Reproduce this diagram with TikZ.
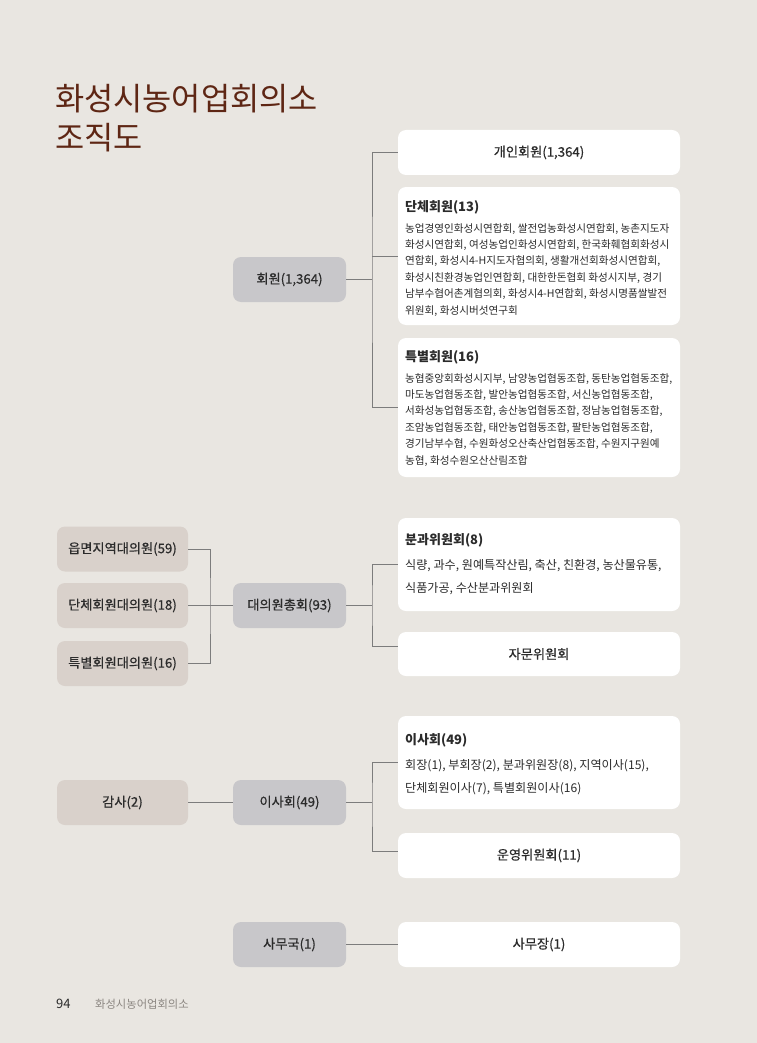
\documentclass[tikz,border=0pt]{standalone}
\usepackage{fontspec}
\setmainfont{Noto Sans CJK KR}
\newfontfamily\labelfont[FakeBold=0.6]{Noto Sans CJK KR}
\usetikzlibrary{calc}
\definecolor{bgcol}{HTML}{E9E6E1}
\definecolor{graycol}{HTML}{C8C7CA}
\definecolor{tancol}{HTML}{D9D1CB}
\definecolor{titlecol}{HTML}{5E2614}
\definecolor{txtcol}{HTML}{2B2B2B}
\definecolor{linecol}{HTML}{7C7C7C}
\definecolor{footcol}{HTML}{8C8782}

\tikzset{
  box/.style={rounded corners=8pt, inner sep=0pt, text=txtcol, font=\labelfont\fontsize{13.2}{15}\selectfont},
  whitebox/.style={box, fill=white, minimum width=282pt, minimum height=45pt},
  graybox/.style={box, fill=graycol, minimum width=113pt, minimum height=45pt},
  tanbox/.style={box, fill=tancol, minimum width=131pt, minimum height=45pt},
  headtxt/.style={anchor=west, inner sep=0pt, text=txtcol, font=\bfseries\fontsize{13}{15}\selectfont},
  smalltxt/.style={anchor=north west, inner sep=0pt, align=left, text=txtcol, font=\fontsize{10.6}{16.4}\selectfont},
  listtxt/.style={anchor=north west, inner sep=0pt, align=left, text=txtcol, font=\fontsize{12.1}{23.5}\selectfont},
  conn/.style={draw=linecol, line width=0.9pt},
}

\begin{document}
\begin{tikzpicture}[x=1pt, y=-1pt]
            \pgfmathsetmacro{\wx}{539}   % white boxes
            \pgfmathsetmacro{\gx}{289.5} % gray boxes
            \pgfmathsetmacro{\tx}{122.5} % left boxes
            \pgfmathsetmacro{\trunk}{372}
            \pgfmathsetmacro{\lx}{405}   % text inside white boxes

            \useasboundingbox (0, 0) rectangle (756, 1043);
            \fill [bgcol] (-2, -2) rectangle (758, 1045);

            \node [anchor = north west, inner sep = 0pt, align = left, text = titlecol,
                   font = \fontsize{31.7}{39}\selectfont] (title) at (55, 84) {화성시농어업회의소\\조직도};

            % 회원
            \node [graybox] (member) at (\gx, 279.5) {회원(1,364)};
            \node [whitebox] (indiv) at (\wx, 152.5) {개인회원(1,364)};
            \node [whitebox, minimum height = 138pt] (danche) at (\wx, 256) {};
            \node [headtxt] (dancheHead) at (\lx, 207) {단체회원(13)};
            \node [smalltxt] (dancheBody) at (\lx, 223) {농업경영인화성시연합회, 쌀전업농화성시연합회, 농촌지도자\\
              화성시연합회, 여성농업인화성시연합회, 한국화훼협회화성시\\
              연합회, 화성시4-H지도자협의회, 생활개선회화성시연합회,\\
              화성시친환경농업인연합회, 대한한돈협회 화성시지부, 경기\\
              남부수협어촌계협의회, 화성시4-H연합회, 화성시명품쌀발전\\
              위원회, 화성시버섯연구회};
            \node [whitebox, minimum height = 139pt] (special) at (\wx, 407.5) {};
            \node [headtxt] (specialHead) at (\lx, 357) {특별회원(16)};
            \node [smalltxt] (specialBody) at (\lx, 373) {농협중앙회화성시지부, 남양농업협동조합, 동탄농업협동조합,\\
              마도농업협동조합, 발안농업협동조합, 서신농업협동조합,\\
              서화성농업협동조합, 송산농업협동조합, 정남농업협동조합,\\
              조암농업협동조합, 태안농업협동조합, 팔탄농업협동조합,\\
              경기남부수협, 수원화성오산축산업협동조합, 수원지구원예\\
              농협, 화성수원오산산림조합};

            \coordinate (trunkA) at (\trunk, 279.5);
            \draw [conn] (member) -- (trunkA);
            \draw [conn] (indiv.west) -| (trunkA) |- (special.west);
            \draw [conn] (trunkA |- danche.west) -- (danche.west);

            % 대의원총회
            \node [tanbox] (eupRep) at (\tx, 549) {읍면지역대의원(59)};
            \node [tanbox] (dancheRep) at (\tx, 605.5) {단체회원대의원(18)};
            \node [tanbox] (specialRep) at (\tx, 663.5) {특별회원대의원(16)};
            \node [graybox] (assembly) at (\gx, 605.5) {대의원총회(93)};
            \node [whitebox, minimum height = 93pt] (bunkwa) at (\wx, 564.5) {};
            \node [headtxt] (bunkwaHead) at (\lx, 540) {분과위원회(8)};
            \node [listtxt] (bunkwaBody) at (\lx, 559) {식량, 과수, 원예특작산림, 축산, 친환경, 농산물유통,\\
              식품가공, 수산분과위원회};
            \node [whitebox, minimum height = 44pt] (jamun) at (\wx, 654) {자문위원회};

            \coordinate (trunkL) at (210, 605.5);
            \coordinate (trunkB) at (\trunk, 605.5);
            \coordinate (jamunIn) at (398, 646);
            \draw [conn] (eupRep.east) -| (trunkL) |- (specialRep.east);
            \draw [conn] (dancheRep) -- (assembly);
            \draw [conn] (assembly) -- (trunkB);
            \draw [conn] (bunkwa.west) -| (trunkB) |- (jamunIn);

            % 이사회
            \node [tanbox] (audit) at (\tx, 802.5) {감사(2)};
            \node [graybox] (board) at (\gx, 802.5) {이사회(49)};
            \node [whitebox, minimum height = 93pt] (boardW) at (\wx, 762.5) {};
            \node [headtxt] (boardHead) at (\lx, 740) {이사회(49)};
            \node [listtxt] (boardBody) at (\lx, 759) {회장(1), 부회장(2), 분과위원장(8), 지역이사(15),\\
              단체회원이사(7), 특별회원이사(16)};
            \node [whitebox] (steering) at (\wx, 855.5) {운영위원회(11)};

            \coordinate (trunkC) at (\trunk, 802.5);
            \coordinate (steeringIn) at (398, 851);
            \draw [conn] (audit) -- (board);
            \draw [conn] (board) -- (trunkC);
            \draw [conn] (boardW.west) -| (trunkC) |- (steeringIn);

            % 사무국
            \node [graybox] (office) at (\gx, 944.5) {사무국(1)};
            \node [whitebox] (chief) at (\wx, 944.5) {사무장(1)};
            \draw [conn] (office) -- (chief);

            \node [anchor = west, inner sep = 0pt, text = txtcol, font = \fontsize{13}{14}\selectfont] (pagenum) at (56, 1004) {94};
            \node [anchor = west, inner sep = 0pt, text = footcol, font = \fontsize{11.3}{12}\selectfont] (footer) at (95, 1004) {화성시농어업회의소};
\end{tikzpicture}
\end{document}
